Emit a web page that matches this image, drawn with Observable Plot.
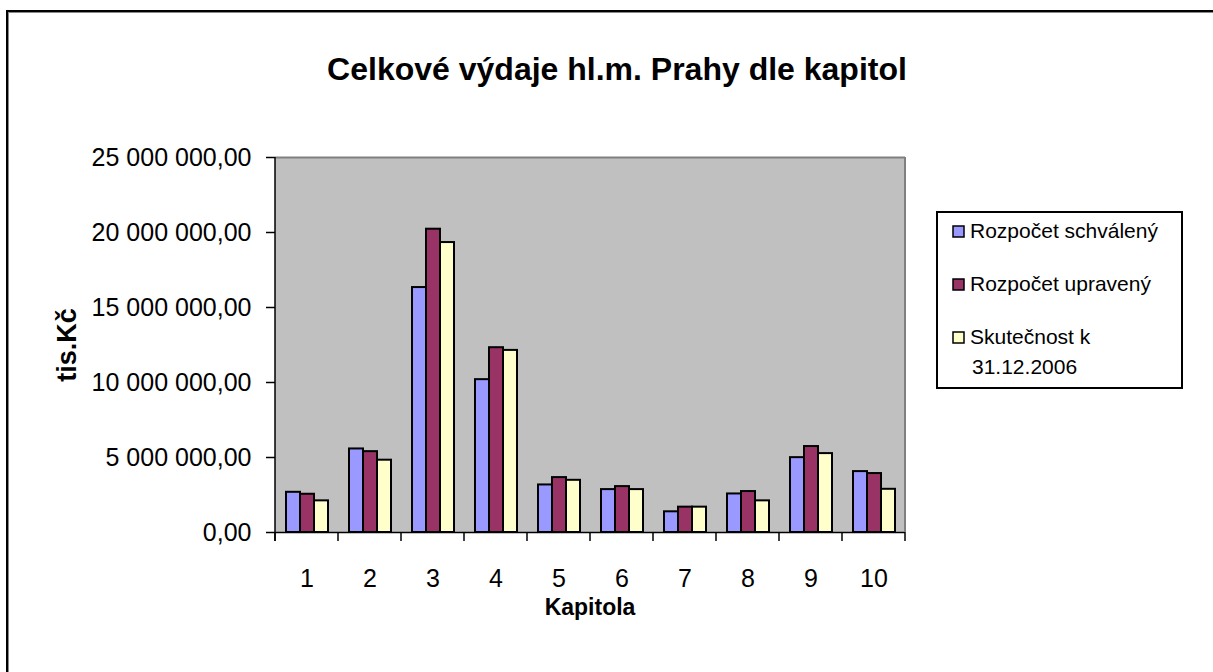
<!DOCTYPE html>
<html>
<head>
<meta charset="utf-8">
<script src="https://cdn.jsdelivr.net/npm/d3@7"></script>
<script src="https://cdn.jsdelivr.net/npm/@observablehq/plot@0.6"></script>
<style>
  html, body { margin: 0; padding: 0; background: #fff; }
  #wrap { position: relative; width: 1213px; height: 672px; overflow: hidden; background: #fff; }
  #frame { position: absolute; left: 6px; top: 10px; width: 1300px; height: 800px;
           border-left: 2px solid #000; border-top: 2px solid #000; box-shadow: inset 1px 1px 0 #888; }
  #chart { position: absolute; left: 0; top: 0; }
</style>
</head>
<body>
<div id="wrap"><div id="frame"></div><div id="chart"></div></div>
<script>
const title = "Celkové výdaje hl.m. Prahy dle kapitol";
const yLabel = "tis.Kč";
const xLabel = "Kapitola";
const categories = ["1", "2", "3", "4", "5", "6", "7", "8", "9", "10"];
const series = ["Rozpočet schválený", "Rozpočet upravený", "Skutečnost k 31.12.2006"];
const legendLines = [["Rozpočet schválený"], ["Rozpočet upravený"], ["Skutečnost k", "31.12.2006"]];
const schvaleny  = [2680000, 5570000, 16330000, 10190000, 3170000, 2860000, 1380000, 2570000, 4990000, 4060000];
const upraveny   = [2550000, 5390000, 20220000, 12320000, 3660000, 3060000, 1690000, 2730000, 5730000, 3930000];
const skutecnost = [2110000, 4820000, 19330000, 12140000, 3480000, 2860000, 1690000, 2110000, 5260000, 2880000];
const yTicks = [0, 5000000, 10000000, 15000000, 20000000, 25000000];
const colors = ["#9999FF", "#993366", "#FFFFCC"];

const values = [schvaleny, upraveny, skutecnost];
const data = [];
categories.forEach((c, i) => series.forEach((s, j) => data.push({cat: c, series: s, value: values[j][i]})));

const fmt = d3.formatLocale({decimal: ",", thousands: " ", grouping: [3], currency: ["", ""]}).format(",.2f");

const W = 1213, H = 672;
const plot = Plot.plot({
  width: W, height: H,
  marginLeft: 274, marginRight: 307, marginTop: 157, marginBottom: 140,
  style: {fontFamily: "Arial, 'Liberation Sans', sans-serif", fontSize: "25px", color: "#000", background: "transparent", overflow: "visible"},
  fx: {domain: categories, padding: 0, label: null},
  x: {domain: series, paddingInner: 0, paddingOuter: 0.75, axis: null},
  y: {domain: [0, 25000000], label: null},
  color: {domain: series, range: colors},
  marks: [
    Plot.ruleY([25000000], {stroke: "#808080", strokeWidth: 2}),
    Plot.barY(data, {fx: "cat", x: "series", y: "value", fill: "series", stroke: "#000", strokeWidth: 2}),
    Plot.ruleY([0], {stroke: "#000", strokeWidth: 1.5}),
    Plot.axisY({ticks: yTicks, tickFormat: fmt, tickSize: 9, tickPadding: 15, label: null, stroke: "#000", strokeWidth: 1.5}),
    Plot.axisFx({anchor: "bottom", tickSize: 0, tickPadding: 37, label: null})
  ]
});
document.getElementById("chart").appendChild(plot);

// Excel-style decorations using the plot's own scales
const svg = d3.select(plot);
let fxS;
try { fxS = plot.scale("fx"); } catch (e) { fxS = null; }
const yS = plot.scale("y");
const left = fxS ? fxS.apply(categories[0]) : 274;
const step = fxS ? (fxS.step || fxS.bandwidth) : (W - 274 - 307) / categories.length;
const right = left + step * categories.length;
const y0 = yS.apply(0), yTop = yS.apply(25000000);
// plot-area background, behind everything
svg.insert("rect", ":first-child").attr("x", left).attr("y", yTop).attr("width", right - left).attr("height", y0 - yTop)
  .attr("fill", "#C0C0C0");
const deco = svg.append("g");
deco.append("line").attr("x1", right).attr("x2", right).attr("y1", yTop).attr("y2", y0)
  .attr("stroke", "#808080").attr("stroke-width", 2);
deco.append("line").attr("x1", left).attr("x2", left).attr("y1", yTop).attr("y2", y0 + 9)
  .attr("stroke", "#000").attr("stroke-width", 1.5);
for (let i = 0; i <= categories.length; i++) {
  const x = left + i * step;
  deco.append("line").attr("x1", x).attr("x2", x).attr("y1", y0).attr("y2", y0 + 9)
    .attr("stroke", "#000").attr("stroke-width", 1.5);
}
const font = "Arial, 'Liberation Sans', sans-serif";
svg.append("text").attr("x", 617).attr("y", 80).attr("text-anchor", "middle")
  .attr("font-family", font).attr("font-size", 32).attr("font-weight", "bold").attr("fill", "#000").text(title);
svg.append("text").attr("x", (left + right) / 2).attr("y", 615).attr("text-anchor", "middle")
  .attr("font-family", font).attr("font-size", 23).attr("font-weight", "bold").attr("fill", "#000").text(xLabel);
svg.append("text").attr("transform", "translate(76,345) rotate(-90)").attr("text-anchor", "middle")
  .attr("font-family", font).attr("font-size", 27).attr("font-weight", "bold").attr("fill", "#000").text(yLabel);
// legend
const colorS = plot.scale("color");
const lg = svg.append("g").attr("text-anchor", "start");
lg.append("rect").attr("x", 937).attr("y", 212).attr("width", 245).attr("height", 176)
  .attr("fill", "#fff").attr("stroke", "#000").attr("stroke-width", 2);
const rowBase = [238, 291, 344];
series.forEach((s, i) => {
  lg.append("rect").attr("x", 953).attr("y", rowBase[i] - 12).attr("width", 11).attr("height", 11)
    .attr("fill", colorS.apply(s)).attr("stroke", "#000").attr("stroke-width", 1.5);
  legendLines[i].forEach((line, k) => {
    lg.append("text").attr("x", k === 0 ? 970 : 972).attr("y", rowBase[i] + k * 30)
      .attr("text-anchor", "start")
      .attr("font-family", font).attr("font-size", 21).attr("fill", "#000").text(line);
  });
});
</script>
</body>
</html>
